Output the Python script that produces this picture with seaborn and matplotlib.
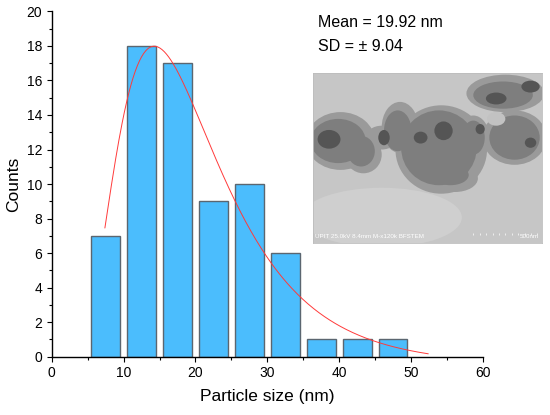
import numpy as np
import pandas as pd
import seaborn as sns
import matplotlib.pyplot as plt
from matplotlib.patches import Ellipse

# histogram data (bin centers in nm, counts)
size_centers = [7.5, 12.5, 17.5, 22.5, 27.5, 32.5, 37.5, 42.5, 47.5]
counts = [7, 18, 17, 9, 10, 6, 1, 1, 1]
bin_edges = [5, 10, 15, 20, 25, 30, 35, 40, 45, 50]

# log-normal fit (Origin style: y0 + A/(sqrt(2pi) w x) exp(-ln(x/xc)^2 / 2w^2))
fit_y0 = -0.5
fit_A = 379.0
fit_xc = 18.4
fit_w = 0.505
fit_range = (7.4, 52.4)

mean_txt = "Mean = 19.92 nm"
sd_txt = "SD = \u00b1 9.04"

df = pd.DataFrame({"size": size_centers, "count": counts})

sns.set_style("ticks")
plt.rcParams['font.family'] = ['Liberation Sans', 'DejaVu Sans']
plt.rcParams['text.color'] = 'black'
plt.rcParams['axes.labelcolor'] = 'black'

fig = plt.figure(figsize=(5.5, 4.15), dpi=100)
ax = fig.add_axes([0.094, 0.1405, 0.784, 0.832])

sns.histplot(df, x="size", weights="count", bins=bin_edges, shrink=0.8,
             color="#4bbdfd", edgecolor="#5b6670", linewidth=1.0, alpha=1,
             ax=ax)

xf = np.linspace(fit_range[0], fit_range[1], 300)
yf = fit_y0 + fit_A / (np.sqrt(2 * np.pi) * fit_w * xf) * np.exp(-np.log(xf / fit_xc) ** 2 / (2 * fit_w ** 2))
sns.lineplot(x=xf, y=yf, color="#ff3a3a", linewidth=0.7, ax=ax)

ax.set_xlim(0, 60)
ax.set_ylim(0, 20)
ax.set_xticks(range(0, 61, 10))
ax.set_xticks(range(5, 60, 10), minor=True)
ax.set_yticks(range(0, 21, 2))
ax.set_yticks(range(1, 20, 2), minor=True)
ax.tick_params(which="major", direction="out", length=3.4, width=0.8, labelsize=10, colors="black")
ax.tick_params(which="minor", direction="out", length=2.0, width=0.8, colors="black")
for s in ["left", "bottom"]:
    ax.spines[s].set_linewidth(1.0)
    ax.spines[s].set_color("black")
sns.despine(ax=ax)
ax.set_xlabel("Particle size (nm)", fontsize=12.5, labelpad=6)
ax.set_ylabel("Counts", fontsize=12.5, labelpad=4)

fig.text(318 / 550, 1 - 22.7 / 415, mean_txt, fontsize=11.5, va="center")
fig.text(318 / 550, 1 - 46.7 / 415, sd_txt, fontsize=11.5, va="center")

# TEM micrograph inset (rough sketch of the photo)
ins = fig.add_axes([313 / 550, 1 - 243 / 415, 229 / 550, 170 / 415])
ins.set_xlim(0, 1)
ins.set_ylim(0, 1)
ins.set_xticks([])
ins.set_yticks([])
ins.set_facecolor("#c6c6c6")
for s in ins.spines.values():
    s.set_color("#bdbdbd")
    s.set_linewidth(0.6)
ins.add_patch(Ellipse((0.3, 0.15), 0.7, 0.35, color="#cfcfcf", lw=0))
halo = [
    ((0.12, 0.60), 0.30, 0.34), ((0.22, 0.52), 0.16, 0.22), ((0.30, 0.62), 0.14, 0.14),
    ((0.38, 0.68), 0.16, 0.30), ((0.56, 0.55), 0.40, 0.52), ((0.62, 0.38), 0.20, 0.16),
    ((0.88, 0.62), 0.28, 0.32), ((0.84, 0.88), 0.34, 0.22), ((0.70, 0.62), 0.14, 0.26),
]
for c, w, h in halo:
    ins.add_patch(Ellipse(c, w, h, color="#9a9a9a", lw=0))
core = [
    ((0.11, 0.60), 0.24, 0.26), ((0.21, 0.54), 0.12, 0.18), ((0.37, 0.66), 0.12, 0.24),
    ((0.55, 0.56), 0.33, 0.44), ((0.60, 0.40), 0.16, 0.12), ((0.88, 0.62), 0.22, 0.26),
    ((0.83, 0.87), 0.26, 0.16), ((0.70, 0.62), 0.10, 0.20),
]
for c, w, h in core:
    ins.add_patch(Ellipse(c, w, h, color="#7e7e7e", lw=0))
ins.add_patch(Ellipse((0.80, 0.73), 0.08, 0.08, color="#c2c2c2", lw=0))
dark = [
    ((0.07, 0.61), 0.10, 0.11), ((0.31, 0.62), 0.05, 0.09), ((0.57, 0.66), 0.08, 0.11),
    ((0.47, 0.62), 0.06, 0.07), ((0.80, 0.85), 0.09, 0.07), ((0.95, 0.92), 0.08, 0.07),
    ((0.95, 0.59), 0.05, 0.06), ((0.73, 0.67), 0.04, 0.06),
]
for c, w, h in dark:
    ins.add_patch(Ellipse(c, w, h, color="#555555", lw=0))
ins.text(0.01, 0.025, "UPIT 25.0kV 8.4mm M-x120k BFSTEM", fontsize=4.5,
         color="white", va="bottom", ha="left")
ins.text(0.985, 0.025, "500nm", fontsize=4.5, color="white", va="bottom", ha="right")
ins.plot(np.linspace(0.70, 0.98, 11), [0.05] * 11, linestyle="none", marker="|",
         markersize=1.5, color="white", markeredgewidth=0.5)

fig.savefig("out.png", dpi=100)
